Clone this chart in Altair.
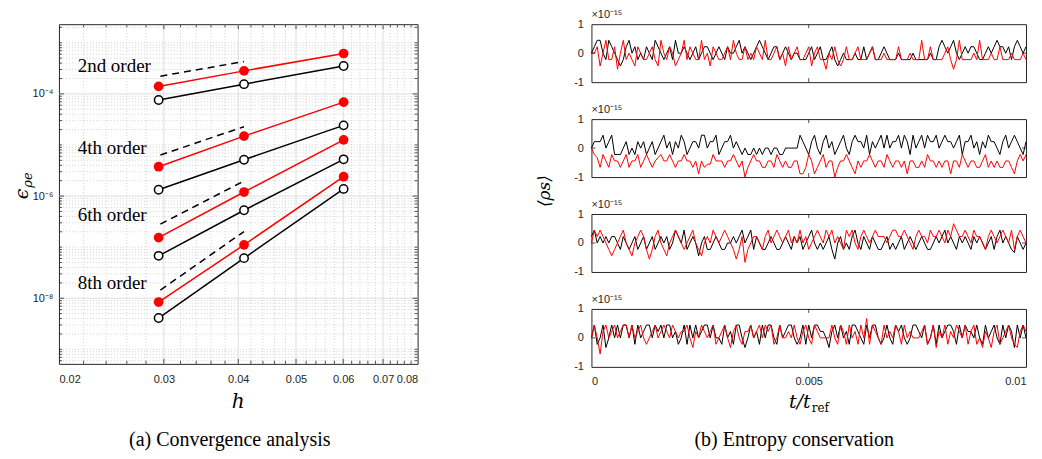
import altair as alt
import numpy as np
import pandas as pd

# ---------------- (a) convergence data ----------------
H = [0.0294, 0.0409, 0.0601]
RED_2 = [1.40e-4, 2.82e-4, 6.17e-4]
BLK_2 = [7.6e-5, 1.55e-4, 3.52e-4]
RED_4 = [3.75e-6, 1.49e-5, 6.89e-5]
BLK_4 = [1.33e-6, 5.14e-6, 2.42e-5]
RED_6 = [1.54e-7, 1.20e-6, 1.26e-5]
BLK_6 = [6.76e-8, 5.28e-7, 5.24e-6]
RED_8 = [8.43e-9, 1.11e-7, 2.39e-6]
BLK_8 = [4.10e-9, 6.10e-8, 1.38e-6]

DASH_H = [0.0296, 0.0409]
DASH_2 = [2.22e-4, 4.30e-4]
DASH_4 = [6.35e-6, 2.28e-5]
DASH_6 = [2.82e-7, 1.97e-6]
DASH_8 = [1.445e-8, 2.02e-7]

ORDER_LABELS = ["2nd order", "4th order", "6th order", "8th order"]
LABEL_H = [0.0215, 0.0215, 0.0215, 0.0215]
LABEL_ERR = [3.47e-4, 8.7e-6, 4.27e-7, 2.0e-8]

X_TICKS = [0.02, 0.03, 0.04, 0.05, 0.06, 0.07, 0.08]
Y_TICKS = [1e-8, 1e-6, 1e-4]

# ---------------- (b) entropy data (units of 1e-15) ----------------
UNIT = 0.111
P1K = [0,2,4,4,0,-2,4,2,0,-2,-4,-2,2,4,0,2,-2,0,-2,2,
       0,-2,4,2,0,-2,0,2,-2,4,0,0,2,0,-2,0,2,-2,0,2,
       2,0,-2,0,2,0,-2,2,0,0,2,4,0,2,0,-2,0,2,4,2,
       0,-2,0,2,2,-2,0,2,0,-2,0,0,-2,-2,-2,0,2,-2,0,2,
       -2,-2,0,2,-2,-4,-2,0,-2,-2,-2,0,-2,-2,2,-2,0,2,-2,-2,
       0,2,0,-2,-2,-2,0,-2,-2,-2,-2,0,-2,-2,-2,-2,-2,0,-2,-2,
       2,4,2,0,2,4,0,-2,0,2,0,2,2,0,-2,-2,0,2,0,2,
       4,2,2,0,2,-2,2,4,2,0,2]
P1R = [0,0,2,-4,0,4,-2,-2,2,-5,0,4,-2,0,-2,-4,2,0,-2,-2,
       0,2,-2,-4,4,0,-2,2,0,-4,-2,0,4,-2,2,0,-2,-2,4,-2,
       0,-4,2,0,-2,-2,0,2,-2,4,0,-2,-2,2,-2,0,-2,2,0,-2,
       4,-2,-2,0,2,-2,0,-4,2,-2,0,2,-2,-2,0,2,-4,0,2,-2,
       -2,-5,0,-2,2,-2,-4,-2,2,-2,-2,0,2,-2,-2,-2,0,2,-2,-2,
       -2,0,-2,-2,-2,-2,2,-2,-2,-2,0,-2,-2,-2,4,-2,-2,2,-2,-2,
       -2,-2,0,2,-2,-5,-2,4,-2,-2,-2,-2,0,-2,4,-2,-2,-2,0,-2,
       -2,2,-2,-2,-2,0,-2,-2,-2,0,-2]
P2K = [0,2,2,2,4,0,2,4,-2,-2,-2,0,2,-2,0,-2,2,0,2,-2,
       0,2,-2,0,2,4,0,2,-2,2,0,4,2,-2,0,2,2,0,4,4,
       0,2,2,4,-2,0,2,2,4,0,2,0,-2,0,-2,-2,0,-2,0,-2,
       0,0,-2,0,0,-2,-2,0,0,0,0,0,4,2,0,-2,2,4,0,-2,
       2,4,0,2,-2,0,2,4,0,-2,2,4,2,2,0,4,-2,2,0,2,
       4,0,4,0,2,2,4,0,4,2,-2,4,0,2,4,0,4,2,2,4,
       0,2,4,2,2,0,2,4,-2,2,2,4,0,2,-2,2,0,4,2,2,
       0,-2,2,4,0,2,4,2,0,-2,2]
P2R = [0,-2,-3,-6,-2,-4,-6,-2,-4,-4,-6,-4,-2,-6,-4,-4,-2,-6,-4,-2,
       -4,-6,-4,-3,-2,-4,-4,-2,-4,-6,-4,-4,-2,-4,-4,-6,-4,-8,-4,-6,
       -5,-5,-2,-4,-4,-4,-6,-4,-4,-2,-4,-6,-4,-9,-6,-4,-2,-4,-4,-6,
       -6,-4,-4,-6,-2,-4,-6,-4,-6,-6,-4,-4,-8,-8,-6,-2,-4,-8,-6,-4,
       -2,-6,-4,-4,-9,-6,-4,-4,-2,-4,-6,-8,-4,-6,-4,-4,-2,-4,-6,-4,
       -4,-6,-2,-4,-6,-4,-4,-6,-4,-8,-4,-4,-6,-6,-4,-6,-2,-4,-4,-6,
       -4,-6,-4,-4,-8,-4,-4,-6,-2,-4,-6,-4,-4,-6,-6,-4,-2,-6,-4,-6,
       -4,-6,-6,-4,-4,-6,-8,-4,-2,-4,-2]
P3K = [2,4,0,2,0,2,0,2,2,0,-2,2,0,-2,0,2,-2,0,2,-2,
       0,2,-2,0,2,0,2,-2,0,4,2,0,4,-2,0,2,0,-4,0,2,
       -2,-2,0,2,0,-2,-2,0,0,2,0,2,4,0,2,4,-2,2,0,-2,
       -2,0,2,0,-2,-2,0,2,0,-2,2,0,2,-2,0,2,4,0,-2,0,
       -2,0,2,-2,-5,0,2,-2,0,-2,2,4,0,-2,2,0,-2,2,0,-2,
       -2,0,2,-2,0,-2,0,2,-2,0,2,0,-2,0,2,0,-2,-2,0,2,
       0,2,4,0,2,0,-2,2,0,2,0,-2,2,0,2,0,-2,0,2,-2,
       2,4,0,2,0,-2,-3,2,0,-2,0]
P3R = [0,4,2,4,2,0,-2,-4,-2,0,2,4,0,-2,-4,0,2,4,2,-2,
       -5,-2,2,4,0,-2,-4,0,2,4,2,0,-2,0,2,4,0,-2,-4,0,
       2,0,4,2,0,2,4,2,0,-2,-5,-2,2,-6,-2,0,2,2,0,-2,
       2,4,0,2,4,2,0,2,4,0,2,0,4,0,2,-2,0,2,4,2,
       0,4,2,4,0,2,0,-2,4,2,4,0,-2,2,4,2,0,2,4,2,
       2,2,0,2,4,4,2,2,4,2,0,-2,2,4,2,2,0,4,2,2,
       4,2,0,4,2,6,4,2,2,4,2,0,4,2,2,0,-2,2,4,2,
       0,2,4,2,0,4,-2,2,4,2,0]
P4K = [0,4,-2,0,4,-3,0,4,0,4,0,4,4,0,4,-2,4,0,2,4,
       4,0,4,2,4,0,4,4,0,2,-2,0,4,-2,4,0,4,0,2,4,
       4,0,4,0,0,-2,4,0,2,-2,4,4,0,-3,0,4,0,2,-2,4,
       0,4,4,0,-2,4,0,2,4,4,0,-2,0,4,-2,4,0,4,4,2,
       2,0,-3,2,4,0,4,0,2,-2,4,4,2,0,-2,4,0,4,4,0,
       -2,0,4,0,-2,4,2,4,0,-2,0,4,4,2,0,4,-2,0,4,-2,
       4,0,2,4,4,2,-2,4,0,4,2,2,0,4,0,-2,4,0,2,4,
       0,-2,4,0,4,2,-3,4,0,4,0]
P4R = [0,4,0,-5,2,4,0,2,4,0,2,4,4,0,4,0,2,4,0,-2,
       0,2,4,0,2,4,2,0,4,2,0,2,2,4,0,-3,2,0,4,2,
       0,2,4,-2,0,2,4,0,-3,2,4,0,-2,2,2,4,0,2,4,0,
       4,2,4,-2,0,4,0,0,2,0,4,0,-2,2,4,0,-2,4,2,0,
       0,0,0,4,0,-2,4,2,-2,4,0,2,-2,4,0,6,-2,4,2,0,
       -2,4,0,2,0,4,2,-2,4,0,2,0,0,0,2,4,-2,0,4,-3,
       2,0,4,-2,2,0,4,2,0,4,-2,2,4,-2,0,-3,2,0,-3,2,
       4,-2,0,2,4,0,-2,-3,2,4,2]
T_END = 0.01
T_TICKS = [0, 0.005, 0.01]
V_TICKS = [-1, 0, 1]

# ---------------- styling ----------------
AX_FONT = "Liberation Sans"
SERIF = "Liberation Serif"
MATH = "DejaVu Serif"
AX_COLOR = "#262626"
TOP = 23  # expected screen y of the plot tops

# ---------------- (a) build ----------------
rows = []
for name, red, blk in [("2", RED_2, BLK_2), ("4", RED_4, BLK_4), ("6", RED_6, BLK_6), ("8", RED_8, BLK_8)]:
    for h, v in zip(H, red):
        rows.append(dict(h=h, err=v, order=name, scheme="red"))
    for h, v in zip(H, blk):
        rows.append(dict(h=h, err=v, order=name, scheme="black"))
conv = pd.DataFrame(rows)

drows = []
for name, d in [("2", DASH_2), ("4", DASH_4), ("6", DASH_6), ("8", DASH_8)]:
    for h, v in zip(DASH_H, d):
        drows.append(dict(h=h, err=v, order=name))
dash = pd.DataFrame(drows)

labels = pd.DataFrame({"h": LABEL_H, "err": LABEL_ERR, "txt": ORDER_LABELS})

X_DOM = [0.02, 0.08]
Y_DOM = [5.2e-10, 2.31e-3]
xs = alt.Scale(type="log", domain=X_DOM, nice=False)
ys = alt.Scale(type="log", domain=Y_DOM, nice=False)

minor_x = [round(0.02 + 0.002 * i, 3) for i in range(31)]
minor_x = [v for v in minor_x if v not in X_TICKS and X_DOM[0] < v < X_DOM[1]]
minor_y = [m * 10.0 ** e for e in range(-10, -2) for m in range(1, 10)]
minor_y = [v for v in minor_y if Y_DOM[0] < v < Y_DOM[1] and not any(abs(v / t - 1) < 1e-6 for t in Y_TICKS)]

x_axis = alt.Axis(
    values=X_TICKS, format=".2f", title=None, grid=False, ticks=False, domain=False,
    labelFont=AX_FONT, labelFontSize=11, labelColor=AX_COLOR, labelPadding=10)
y_axis = alt.Axis(
    values=Y_TICKS, title=None, grid=False, ticks=False, domain=False,
    labelExpr="datum.value < 1e-7 ? '10⁻⁸' : (datum.value < 1e-5 ? '10⁻⁶' : '10⁻⁴')",
    labelFont=AX_FONT, labelFontSize=11, labelColor=AX_COLOR, labelPadding=6)

LW, LH = 359, 363 - TOP

gx_minor = alt.Chart(pd.DataFrame({"v": minor_x})).mark_rule(
    color="#c8c8c8", strokeDash=[1, 2], strokeWidth=0.8).encode(x=alt.X("v:Q", scale=xs, axis=x_axis))
gy_minor = alt.Chart(pd.DataFrame({"v": minor_y})).mark_rule(
    color="#c8c8c8", strokeDash=[1, 2], strokeWidth=0.8).encode(y=alt.Y("v:Q", scale=ys, axis=y_axis))
gx_major = alt.Chart(pd.DataFrame({"v": X_TICKS[1:-1]})).mark_rule(
    color="#dedede", strokeWidth=1).encode(x=alt.X("v:Q", scale=xs, axis=x_axis))
gy_major = alt.Chart(pd.DataFrame({"v": Y_TICKS})).mark_rule(
    color="#dedede", strokeWidth=1).encode(y=alt.Y("v:Q", scale=ys, axis=y_axis))


def yticks(vals, length):
    d = pd.DataFrame({"v": vals})
    a = alt.Chart(d).mark_rule(color=AX_COLOR, strokeWidth=0.8).encode(
        y=alt.Y("v:Q", scale=ys, axis=y_axis), x=alt.value(0), x2=alt.value(length))
    b = alt.Chart(d).mark_rule(color=AX_COLOR, strokeWidth=0.8).encode(
        y=alt.Y("v:Q", scale=ys, axis=y_axis), x=alt.value(LW - length), x2=alt.value(LW))
    return [a, b]


def xticks(vals, length):
    d = pd.DataFrame({"v": vals})
    a = alt.Chart(d).mark_rule(color=AX_COLOR, strokeWidth=0.8).encode(
        x=alt.X("v:Q", scale=xs, axis=x_axis), y=alt.value(LH - length), y2=alt.value(LH))
    b = alt.Chart(d).mark_rule(color=AX_COLOR, strokeWidth=0.8).encode(
        x=alt.X("v:Q", scale=xs, axis=x_axis), y=alt.value(0), y2=alt.value(length))
    return [a, b]


tick_layers = yticks(Y_TICKS, 5) + yticks(minor_y, 3) + xticks(X_TICKS[1:-1], 5) + xticks(minor_x, 3)

x_enc = alt.X("h:Q", scale=xs, axis=x_axis)
y_enc = alt.Y("err:Q", scale=ys, axis=y_axis)

col = alt.Color("scheme:N", scale=alt.Scale(domain=["black", "red"], range=["#000000", "#ff0000"]), legend=None)

lines = alt.Chart(conv).mark_line(strokeWidth=1.5).encode(x=x_enc, y=y_enc, color=col, detail="order:N")
dashes = alt.Chart(dash).mark_line(strokeWidth=1.5, strokeDash=[7, 5], color="black").encode(
    x=x_enc, y=y_enc, detail="order:N")
red_pts = alt.Chart(conv).transform_filter("datum.scheme == 'red'").mark_point(
    shape="circle", filled=True, size=95, color="#ff0000", opacity=1).encode(x=x_enc, y=y_enc)
blk_pts = alt.Chart(conv).transform_filter("datum.scheme == 'black'").mark_point(
    shape="circle", filled=False, fill="white", fillOpacity=1, stroke="black", strokeWidth=1.5,
    size=70, opacity=1).encode(x=x_enc, y=y_enc)
order_txt = alt.Chart(labels).mark_text(
    align="left", baseline="middle", font=SERIF, fontSize=19, color="black").encode(
    x=x_enc, y=y_enc, text="txt:N")

h_title = alt.Chart(pd.DataFrame({"s": ["h"]})).mark_text(
    font=MATH, fontStyle="italic", fontSize=20, color="black", baseline="middle").encode(
    text="s:N", x=alt.value(LW / 2), y=alt.value(401 - TOP))
eps_title = alt.Chart(pd.DataFrame({"s": ["ϵ"]})).mark_text(
    font=MATH, fontStyle="italic", fontSize=19, angle=270, baseline="middle", color="black").encode(
    text="s:N", x=alt.value(-37), y=alt.value(193 - TOP))
eps_sub = alt.Chart(pd.DataFrame({"s": ["ρe"]})).mark_text(
    font=MATH, fontStyle="italic", fontSize=13, angle=270, baseline="middle", color="black").encode(
    text="s:N", x=alt.value(-31), y=alt.value(179 - TOP))
cap_a = alt.Chart(pd.DataFrame({"s": ["(a) Convergence analysis"]})).mark_text(
    font=SERIF, fontSize=20, baseline="middle", color="black").encode(
    text="s:N", x=alt.value(171), y=alt.value(439 - TOP))

left = alt.layer(gx_minor, gy_minor, gx_major, gy_major, *tick_layers, lines, dashes, red_pts, blk_pts,
                 order_txt, h_title, eps_title, eps_sub, cap_a).properties(width=LW, height=LH)

# ---------------- (b) build ----------------
PW, PH = 435, 58
VSP = 37
STEP = PH + VSP


def panel(kseries, rseries, bottom, extra=None):
    df = pd.concat([
        pd.DataFrame({"t": np.linspace(0, T_END, len(kseries)), "v": [k * UNIT for k in kseries], "s": "black"}),
        pd.DataFrame({"t": np.linspace(0, T_END, len(rseries)), "v": [k * UNIT for k in rseries], "s": "red"}),
    ])
    tsc = alt.Scale(domain=[0, T_END], nice=False)
    vsc = alt.Scale(domain=[-1, 1], nice=False)
    xax = alt.Axis(values=T_TICKS, labels=bottom,
                   labelExpr="datum.value == 0 ? '0' : (datum.value < 0.007 ? '0.005' : '0.01')",
                   title=None, grid=False, ticks=False, domain=False,
                   labelFont=AX_FONT, labelFontSize=11, labelColor=AX_COLOR, labelPadding=9)
    yax = alt.Axis(values=V_TICKS, title=None, grid=False, ticks=False, domain=False,
                   labelExpr="datum.value < 0 ? '-1' : (datum.value > 0 ? '1' : '0')",
                   labelFont=AX_FONT, labelFontSize=11, labelColor=AX_COLOR, labelPadding=8)
    ln = alt.Chart(df).mark_line(strokeWidth=1).encode(
        x=alt.X("t:Q", scale=tsc, axis=xax),
        y=alt.Y("v:Q", scale=vsc, axis=yax),
        color=alt.Color("s:N", scale=alt.Scale(domain=["black", "red"], range=["#000000", "#ff0000"]), legend=None),
    )
    mid_t = pd.DataFrame({"v": T_TICKS[1:-1]})
    mid_v = pd.DataFrame({"v": V_TICKS[1:-1]})
    tk = [
        alt.Chart(mid_t).mark_rule(color=AX_COLOR, strokeWidth=0.8).encode(
            x=alt.X("v:Q", scale=tsc, axis=xax), y=alt.value(PH - 4), y2=alt.value(PH)),
        alt.Chart(mid_t).mark_rule(color=AX_COLOR, strokeWidth=0.8).encode(
            x=alt.X("v:Q", scale=tsc, axis=xax), y=alt.value(0), y2=alt.value(4)),
        alt.Chart(mid_v).mark_rule(color=AX_COLOR, strokeWidth=0.8).encode(
            y=alt.Y("v:Q", scale=vsc, axis=yax), x=alt.value(0), x2=alt.value(4)),
        alt.Chart(mid_v).mark_rule(color=AX_COLOR, strokeWidth=0.8).encode(
            y=alt.Y("v:Q", scale=vsc, axis=yax), x=alt.value(PW - 4), x2=alt.value(PW)),
    ]
    layers = [ln] + tk + (extra or [])
    return alt.layer(*layers).properties(
        width=PW, height=PH,
        title=alt.TitleParams("×10⁻¹⁵", anchor="start", frame="group", font=AX_FONT, fontSize=11,
                              fontWeight="normal", color=AX_COLOR, offset=-2))


P2_TOP = TOP + STEP
P4_TOP = TOP + 3 * STEP
rho_title = alt.Chart(pd.DataFrame({"s": ["⟨ρs⟩"]})).mark_text(
    font=MATH, fontStyle="italic", fontSize=17, angle=270, baseline="middle", color="black").encode(
    text="s:N", x=alt.value(-46), y=alt.value(190 - P2_TOP))
t_main = alt.Chart(pd.DataFrame({"s": ["t/t"]})).mark_text(
    font=MATH, fontStyle="italic", fontSize=19, align="right", baseline="middle", color="black").encode(
    text="s:N", x=alt.value(PW / 2 + 2), y=alt.value(401 - P4_TOP))
t_sub = alt.Chart(pd.DataFrame({"s": ["ref"]})).mark_text(
    font=MATH, fontSize=12, align="left", baseline="middle", color="black").encode(
    text="s:N", x=alt.value(PW / 2 + 3), y=alt.value(407 - P4_TOP))
cap_b = alt.Chart(pd.DataFrame({"s": ["(b) Entropy conservation"]})).mark_text(
    font=SERIF, fontSize=20, baseline="middle", color="black").encode(
    text="s:N", x=alt.value(203), y=alt.value(439 - P4_TOP))

p1 = panel(P1K, P1R, False)
p2 = panel(P2K, P2R, False, [rho_title])
p3 = panel(P3K, P3R, False)
p4 = panel(P4K, P4R, True, [t_main, t_sub, cap_b])

right = alt.vconcat(p1, p2, p3, p4, spacing=VSP, bounds="flush")

chart = alt.concat(left, right, columns=2, spacing=117, align="none").properties(
    padding={"left": 4, "top": 0, "right": 5, "bottom": 0}
).configure(background="white").configure_view(stroke=AX_COLOR, strokeWidth=1)

chart.save("out.html", embed_options={"renderer": "svg", "actions": False})
